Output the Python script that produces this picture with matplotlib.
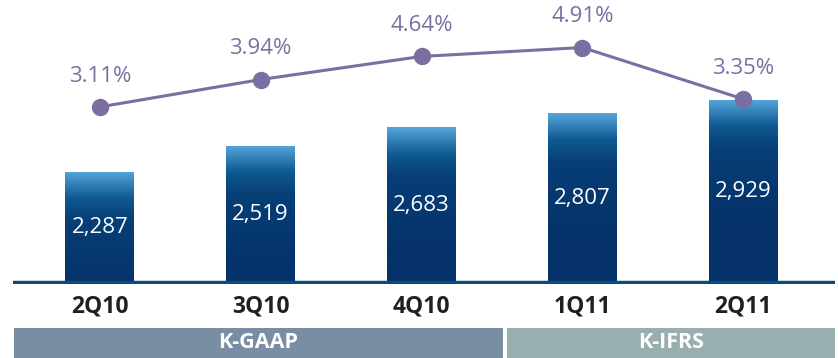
import numpy as np
import matplotlib.pyplot as plt
from matplotlib.colors import LinearSegmentedColormap
from matplotlib.patches import Rectangle

plt.rcParams['font.family'] = ['Open Sans', 'DejaVu Sans']

quarters = ['2Q10', '3Q10', '4Q10', '1Q11', '2Q11']
balances = [2287, 2519, 2683, 2807, 2929]
rates = [3.11, 3.94, 4.64, 4.91, 3.35]
groups = ['K-GAAP', 'K-IFRS']

W, H = 838, 358
fig = plt.figure(figsize=(W / 100, H / 100), dpi=100)

# main plot area: from the baseline up to the top edge
base_y = 284
ax = fig.add_axes([13 / W, (H - base_y) / H, (835 - 13) / W, base_y / H])
ax2 = ax.twinx()
for a in (ax, ax2):
    a.set_axis_off()

x = np.arange(len(quarters))
y0 = 1282
xlim = (-0.540, 4.571)
ylim = (y0, 3820)

# bars with a light-to-navy vertical gradient
grad = LinearSegmentedColormap.from_list(
    'bar', [(0.0, '#55a5da'), (0.22, '#0f5a92'), (0.4, '#073f76'), (1.0, '#05326a')])
bars = ax.bar(x, balances, width=0.429, color='none', zorder=2)
for b, v in zip(bars, balances):
    x0 = b.get_x()
    top = b.get_height()
    # gradient length fixed in pixels so all bars look alike
    g = np.linspace(0, 1, 256).reshape(-1, 1)
    px = g * (top - y0) * 0.1119
    frac = np.clip(px / 120.0, 0, 1)
    im = ax.imshow(frac, cmap=grad, vmin=0, vmax=1, aspect='auto',
                   extent=[x0, x0 + b.get_width(), y0, top], origin='upper', zorder=2)
    im.set_clip_path(b)
    ax.text(x0 + b.get_width() / 2, (top + y0) / 2, f'{v:,}',
            ha='center', va='center', color='white', fontsize=16, zorder=3)

# baseline
ax.axhline(y0 + 8, color='#0c4a7c', lw=3.2, zorder=4)

# interest rate line
line_c = '#7b6fa2'
ax2.plot(x, rates, color=line_c, lw=2.2, marker='o', ms=11.5, zorder=5)
for xi, r in zip(x, rates):
    ax2.annotate(f'{r:.2f}%', (xi, r), xytext=(0, 22), textcoords='offset points',
                 ha='center', va='center', color=line_c, fontsize=16)

ax.set_xlim(*xlim)
ax.set_ylim(*ylim)
ax2.set_ylim(-2.256, 6.35)

# quarter labels
for xi, q in zip(x, quarters):
    ax.text(xi, -22 / base_y, q, transform=ax.get_xaxis_transform(),
            ha='center', va='center', fontsize=16.5, fontweight='bold', color='#231f20')

# accounting-standard bands
band_y0, band_y1 = 328, 358
spans = [(14, 503, '#7a8ea3'), (507, 835, '#98aeaf')]
for (l, r, c), name in zip(spans, groups):
    fig.add_artist(Rectangle((l / W, (H - band_y1) / H), (r - l) / W,
                             (band_y1 - band_y0) / H, transform=fig.transFigure,
                             color=c, lw=0))
    fig.text((l + r) / 2 / W, (H - (band_y0 + band_y1) / 2) / H, name,
             ha='center', va='center', color='white', fontsize=15.5, fontweight='bold')

fig.savefig('out.png', dpi=100)
